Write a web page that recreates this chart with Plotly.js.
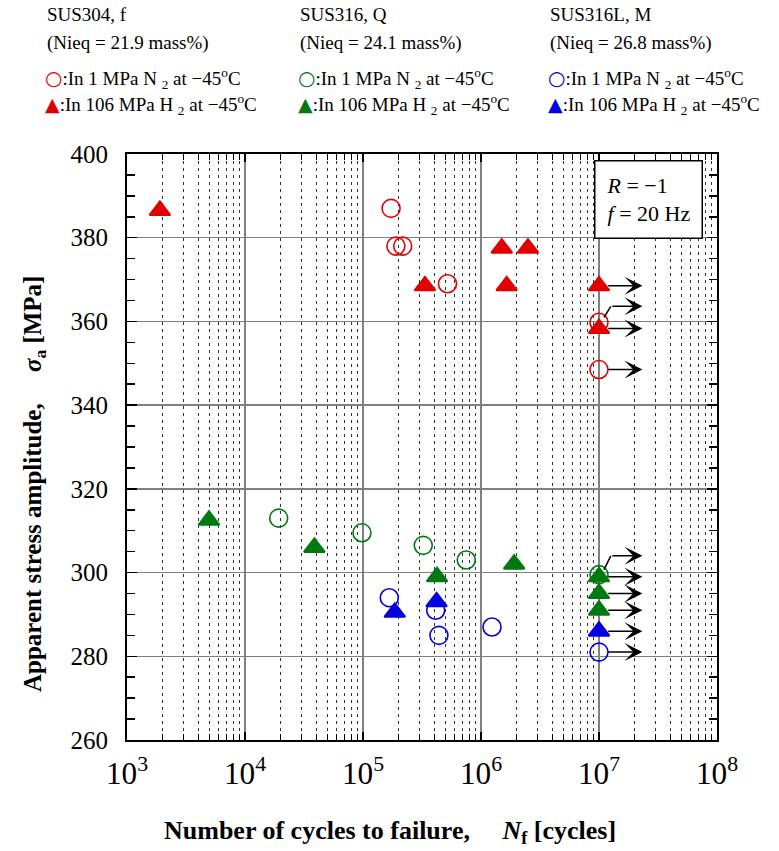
<!DOCTYPE html>
<html>
<head>
<meta charset="utf-8">
<script src="https://cdn.plot.ly/plotly-3.0.1.min.js"></script>
<style>
  html, body { margin: 0; padding: 0; background: #fff; }
  #chart { width: 779px; height: 851px; }
</style>
</head>
<body>
<div id="chart"></div>
<script>
// Fatigue tests at -45 °C, R = -1, f = 20 Hz.
// Cycles to failure (N_f) and apparent stress amplitude (MPa).

// SUS304, f
const sus304N2Cycles = [1.73e5, 1.9e5, 2.17e5, 5.2e5, 1e7, 1e7];
const sus304N2Stress = [387, 378, 378, 369, 359.8, 348.5];
const sus304H2Cycles = [1.9e3, 3.35e5, 1.5e6, 1.65e6, 2.5e6, 1e7, 1e7];
const sus304H2Stress = [386.5, 368.5, 377.5, 368.5, 377.5, 368.5, 358.3];

// SUS316, Q
const sus316N2Cycles = [1.93e4, 9.8e4, 3.24e5, 7.5e5, 1e7];
const sus316N2Stress = [313, 309.5, 306.5, 303, 299.5];
const sus316H2Cycles = [4.95e3, 3.87e4, 4.24e5, 1.91e6, 1e7, 1e7, 1e7];
const sus316H2Stress = [312.5, 306, 299, 302, 299, 295, 291];

// SUS316L, M
const sus316LN2Cycles = [1.67e5, 4.13e5, 4.4e5, 1.24e6, 1e7];
const sus316LN2Stress = [294, 291, 285, 287, 281];
const sus316LH2Cycles = [1.86e5, 4.2e5, 1e7];
const sus316LH2Stress = [290.5, 293, 286];

// Header text for each steel
const steelNames = ['SUS304, f', 'SUS316, Q', 'SUS316L, M'];
const nieqValues = ['21.9', '24.1', '26.8'];

// Tests stopped at this count without failure (run-outs)
const runoutCycles = 1e7;

const RED = '#e00000', GREEN = '#007a10', BLUE = '#0000e0';
const SERIF = '"Liberation Serif", "Times New Roman", serif';

const series = [
  { x: sus304N2Cycles,  y: sus304N2Stress,  color: RED,   filled: false },
  { x: sus304H2Cycles,  y: sus304H2Stress,  color: RED,   filled: true  },
  { x: sus316N2Cycles,  y: sus316N2Stress,  color: GREEN, filled: false },
  { x: sus316H2Cycles,  y: sus316H2Stress,  color: GREEN, filled: true  },
  { x: sus316LN2Cycles, y: sus316LN2Stress, color: BLUE,  filled: false },
  { x: sus316LH2Cycles, y: sus316LH2Stress, color: BLUE,  filled: true  }
];

// Run-out arrows that would overlap a neighbour are lifted (MPa) via a short leader.
// Key: "series:point"
const arrowLift = { '0:4': 3.8, '2:4': 4.5 };

const traces = series.map(s => ({
  type: 'scatter', mode: 'markers', x: s.x, y: s.y, showlegend: false,
  hoverinfo: 'x+y',
  marker: s.filled
    ? { symbol: 'triangle-up', size: 18, color: s.color, line: { color: s.color, width: 2 } }
    : { symbol: 'circle-open', size: 18, color: s.color, line: { color: s.color, width: 1.6 } }
}));

// Plot area in pixels
const W = 779, H = 851;
const PL = 127, PR = 717, PT = 154, PB = 740;
const px = v => (v - PL) / (PR - PL);
const py = v => (PB - v) / (PB - PT);

const annotations = [];

// Run-out arrows
const ARROW_END = 0.368;   // decades right of the point
const ARROW_START = 0.065;
series.forEach((s, si) => {
  s.x.forEach((n, i) => {
    if (n < runoutCycles) return;
    const lx = Math.log10(n);
    const y0 = s.y[i];
    const lift = arrowLift[si + ':' + i] || 0;
    let startX = lx + ARROW_START, yA = y0;
    if (lift) {
      startX = lx + 0.1;
      yA = y0 + lift;
      annotations.push({
        x: startX, y: yA, xref: 'x', yref: 'y', axref: 'x', ayref: 'y',
        ax: lx + 0.035, ay: y0 + 0.8, text: '', showarrow: true,
        arrowhead: 0, arrowwidth: 1.5, arrowcolor: '#000'
      });
    }
    annotations.push({
      x: lx + ARROW_END, y: yA, xref: 'x', yref: 'y', axref: 'x', ayref: 'y',
      ax: startX, ay: yA, text: '', showarrow: true,
      arrowhead: 3, arrowsize: 2, arrowwidth: 1.5, arrowcolor: '#000'
    });
  });
});

// Header: steel names, Ni-equivalent, marker key
const colX = [45, 298, 548];
const colColor = [RED, GREEN, BLUE];
const hdrFont = { family: SERIF, size: 19, color: '#000' };
colX.forEach((cx, k) => {
  const base = { xref: 'paper', yref: 'paper', xanchor: 'left', yanchor: 'middle', showarrow: false, font: hdrFont };
  annotations.push(Object.assign({}, base, { x: px(cx), y: py(14), text: steelNames[k] }));
  annotations.push(Object.assign({}, base, { x: px(cx), y: py(43), text: '(Nieq = ' + nieqValues[k] + ' mass%)' }));
  annotations.push(Object.assign({}, base, { x: px(cx - 2), y: py(79),
    text: '<span style="color:' + colColor[k] + ';font-family:DejaVu Sans;font-size:20px">○</span>:In 1 MPa N <sub>2</sub> at −45<sup>o</sup>C' }));
  annotations.push(Object.assign({}, base, { x: px(cx - 2), y: py(104),
    text: '<span style="color:' + colColor[k] + ';font-family:DejaVu Sans">▲</span>:In 106 MPa H <sub>2</sub> at −45<sup>o</sup>C' }));
});

// Test condition box
annotations.push({
  xref: 'paper', yref: 'paper', x: px(648), y: py(200), xanchor: 'center', yanchor: 'middle',
  showarrow: false, align: 'left',
  text: '<i>R</i> = −1<br><i>f</i> = 20 Hz',
  font: { family: SERIF, size: 22, color: '#000' },
  bgcolor: '#fff', bordercolor: '#000', borderwidth: 1.5, borderpad: 11
});

// Axis titles
const titleFont = { family: SERIF, size: 26, color: '#000' };
const gap = '&nbsp;'.repeat(5);
annotations.push({
  xref: 'paper', yref: 'paper', x: px(390), y: py(832), xanchor: 'center', yanchor: 'middle',
  showarrow: false, font: titleFont,
  text: '<b>Number of cycles to failure,' + gap + '<i>N</i><sub>f</sub> [cycles]</b>'
});
annotations.push({
  xref: 'paper', yref: 'paper', x: px(35), y: py(484), xanchor: 'center', yanchor: 'middle',
  showarrow: false, font: { family: SERIF, size: 25, color: '#000' }, textangle: -90,
  text: '<b>Apparent stress amplitude,' + gap + '<i>σ</i><sub>a</sub> [MPa]</b>'
});

const layout = {
  width: W, height: H,
  margin: { l: PL, r: W - PR, t: PT, b: H - PB, pad: 0 },
  paper_bgcolor: '#fff', plot_bgcolor: '#fff',
  showlegend: false,
  font: { family: SERIF, color: '#000' },
  xaxis: {
    type: 'log', range: [3, 8], dtick: 1, exponentformat: 'power',
    showgrid: true, gridcolor: '#808080', gridwidth: 1.5,
    ticks: 'inside', ticklen: 8, tickcolor: '#000', tickwidth: 1.5,
    showline: true, linecolor: '#000', linewidth: 2, mirror: 'allticks',
    tickfont: { family: SERIF, size: 25, color: '#000' },
    ticklabelstandoff: 6,
    minor: { dtick: 'D1', ticks: 'inside', ticklen: 6, tickcolor: '#000', tickwidth: 1,
             showgrid: true, gridcolor: '#333', gridwidth: 1, griddash: '3px,4px' },
    zeroline: false
  },
  yaxis: {
    range: [260, 400], dtick: 20,
    showgrid: true, gridcolor: '#808080', gridwidth: 1.5,
    ticks: 'inside', ticklen: 10, tickcolor: '#000', tickwidth: 1.5,
    showline: true, linecolor: '#000', linewidth: 2, mirror: 'allticks',
    tickfont: { family: SERIF, size: 25, color: '#000' },
    ticklabelstandoff: 12,
    minor: { dtick: 5, ticks: 'inside', ticklen: 8, tickcolor: '#000', tickwidth: 1.5, showgrid: false },
    zeroline: false
  },
  annotations: annotations
};

Plotly.newPlot('chart', traces, layout, { displayModeBar: false, staticPlot: true });
</script>
</body>
</html>
